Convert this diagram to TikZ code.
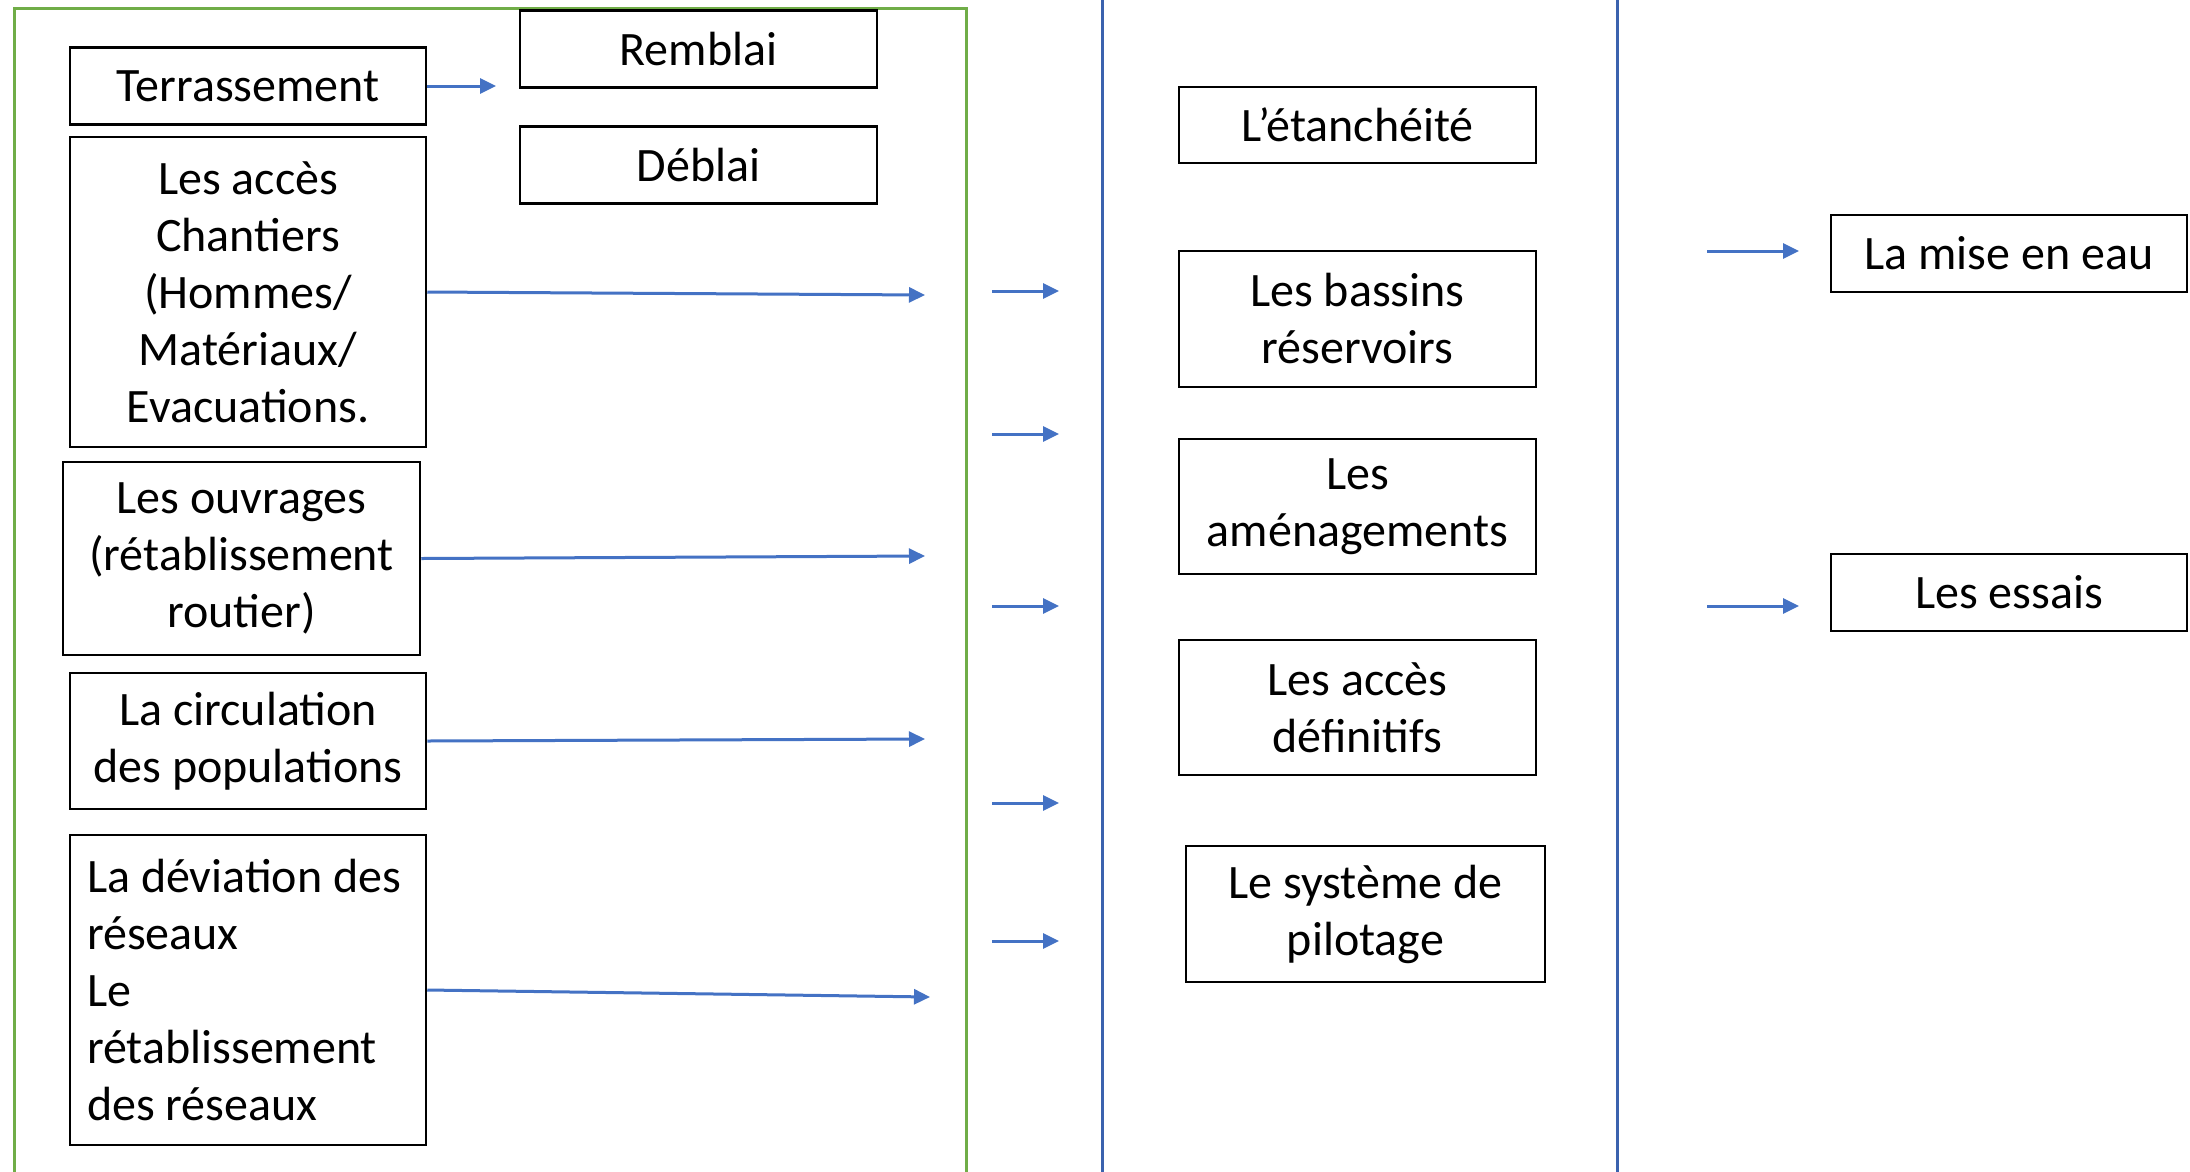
\documentclass[tikz,border=0pt]{standalone}
\usepackage{fontspec}
\setmainfont{Carlito}
\usetikzlibrary{arrows.meta}
\definecolor{offgreen}{HTML}{70AD47}
\definecolor{offblue}{HTML}{4472C4}
\definecolor{lineblue}{HTML}{3B62AE}
\begin{document}
\begin{tikzpicture}[x=1pt,y=-1pt,
  box/.style={draw=black,line width=2.5pt,inner sep=0pt,align=center,
    font=\fontsize{48}{57}\selectfont},
  arr/.style={draw=offblue,line width=3pt,-{Triangle[length=16pt,width=15pt]}},
  vline/.style={draw=lineblue,line width=3pt}]
\useasboundingbox (0,0) rectangle (2190,1171);
\fill[white] (0,0) rectangle (2190,1171);
% frames
\draw[offgreen,line width=3pt] (14,1180) -- (14,8) -- (966,8) -- (966,1180);
\draw[vline] (1102,-5) -- (1102,1180);
\draw[vline] (1617,-5) -- (1617,1180);
% left column
\node[box,minimum width=356pt,minimum height=77pt] (terr) at (248,86) {Terrassement};
\node[box,minimum width=357pt,minimum height=77pt] (remb) at (698.5,49) {Remblai};
\node[box,minimum width=357pt,minimum height=77pt] (debl) at (698.5,165) {Déblai};
\node[box,minimum width=356pt,minimum height=310pt] (acces) at (248,292) {Les accès\\Chantiers\\(Hommes/\\Matériaux/\\Evacuations.};
\node[box,minimum width=357pt,minimum height=193pt] (ouvr) at (241.5,558.5) {Les ouvrages\\(rétablissement\\routier)};
\node[box,minimum width=356pt,minimum height=136pt] (circ) at (248,741) {La circulation\\des populations};
\node[box,minimum width=356pt,minimum height=310pt,align=flush left,text width=322pt,inner xsep=17pt] (devi) at (248,990) {La déviation des\\réseaux\\Le\\rétablissement\\des réseaux};
% middle column
\node[box,minimum width=357pt,minimum height=76pt] (etan) at (1357.5,125) {L’étanchéité};
\node[box,minimum width=357pt,minimum height=136pt] (bass) at (1357.5,319) {Les bassins\\réservoirs};
\node[box,minimum width=357pt,minimum height=135pt] (amen) at (1357.5,506.5) {Les\\aménagements};
\node[box,minimum width=357pt,minimum height=135pt] (adef) at (1357.5,707.5) {Les accès\\définitifs};
\node[box,minimum width=359pt,minimum height=136pt] (syst) at (1365.5,914) {Le système de\\pilotage};
% right column
\node[box,minimum width=356pt,minimum height=77pt] (mise) at (2009,253.5) {La mise en eau};
\node[box,minimum width=356pt,minimum height=77pt] (essa) at (2009,592.5) {Les essais};
% arrow end points
\coordinate (tE) at (496,86);
\coordinate (aE) at (925,295);
\coordinate (oE) at (925,556);
\coordinate (cE) at (925,739);
\coordinate (dE) at (930,997);
\foreach \i/\y in {1/291,2/434,3/606,4/803,5/941}{
  \coordinate (fs\i) at (992,\y);
  \coordinate (fe\i) at (1059,\y);
}
\coordinate (r1s) at (1707,251);
\coordinate (r1e) at (1799,251);
\coordinate (r2s) at (1707,606);
\coordinate (r2e) at (1799,606);
% arrows
\draw[arr] (terr.east) -- (tE);
\draw[arr] (acces.east) -- (aE);
\draw[arr] (ouvr.east) -- (oE);
\draw[arr] (circ.east) -- (cE);
\draw[arr] (devi.east) -- (dE);
\foreach \i in {1,...,5}{\draw[arr] (fs\i) -- (fe\i);}
\draw[arr] (r1s) -- (r1e);
\draw[arr] (r2s) -- (r2e);
\end{tikzpicture}
\end{document}
